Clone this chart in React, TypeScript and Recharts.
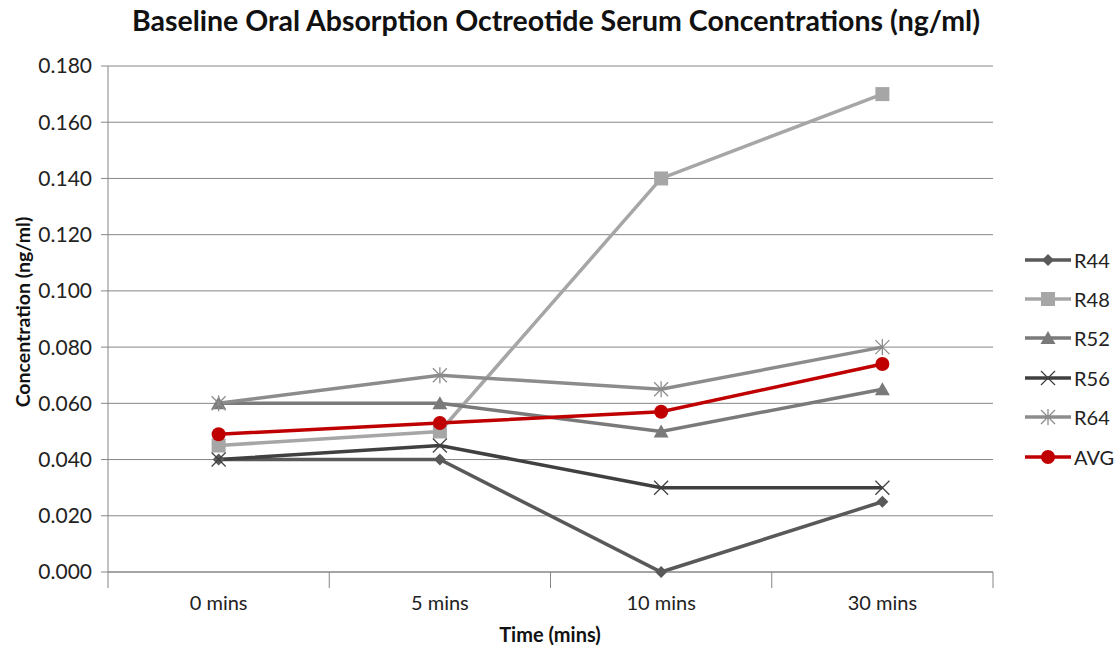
import React from "react";
import { LineChart, Line, XAxis, YAxis, CartesianGrid, Legend } from "recharts";

const times = ["0 mins", "5 mins", "10 mins", "30 mins"];
const r44 = [0.04, 0.04, 0.0, 0.025];
const r48 = [0.045, 0.05, 0.14, 0.17];
const r52 = [0.06, 0.06, 0.05, 0.065];
const r56 = [0.04, 0.045, 0.03, 0.03];
const r64 = [0.06, 0.07, 0.065, 0.08];
const avg = [0.049, 0.053, 0.057, 0.074];
const yTicks = [0, 0.02, 0.04, 0.06, 0.08, 0.1, 0.12, 0.14, 0.16, 0.18];

const data = times.map((t, i) => ({
  time: t,
  R44: r44[i],
  R48: r48[i],
  R52: r52[i],
  R56: r56[i],
  R64: r64[i],
  AVG: avg[i],
}));

const W = 1119;
const H = 646;
const LEGEND_W = 97;
// plot area ends at x=993; the legend's own width is added to the right offset
const MARGIN = { top: 66, right: 126 - LEGEND_W, bottom: 0, left: 0 };
const Y_W = 108;
const X_H = 74;
const PLOT_W = 993 - Y_W;
const HALF = PLOT_W / times.length / 2;
const FONT = "Lato, 'Open Sans', sans-serif";
const AXIS = "#868686";

type Shape = "diamond" | "square" | "triangle" | "x" | "star" | "circle";

const Marker = ({ cx, cy, shape, color }: { cx: number; cy: number; shape: Shape; color: string }) => {
  if (cx == null || cy == null) return null;
  switch (shape) {
    case "diamond":
      return <polygon points={`${cx},${cy - 6} ${cx + 6},${cy} ${cx},${cy + 6} ${cx - 6},${cy}`} fill={color} />;
    case "square":
      return <rect x={cx - 7} y={cy - 7} width={14} height={14} fill={color} />;
    case "triangle":
      return <polygon points={`${cx},${cy - 7} ${cx + 7.5},${cy + 6} ${cx - 7.5},${cy + 6}`} fill={color} />;
    case "x":
      return (
        <g stroke={color} strokeWidth={1.3}>
          <line x1={cx - 7} y1={cy - 7} x2={cx + 7} y2={cy + 7} />
          <line x1={cx - 7} y1={cy + 7} x2={cx + 7} y2={cy - 7} />
        </g>
      );
    case "star":
      return (
        <g stroke={color} strokeWidth={1.3}>
          <line x1={cx - 7} y1={cy - 7} x2={cx + 7} y2={cy + 7} />
          <line x1={cx - 7} y1={cy + 7} x2={cx + 7} y2={cy - 7} />
          <line x1={cx} y1={cy - 8} x2={cx} y2={cy + 8} />
        </g>
      );
    default:
      return <circle cx={cx} cy={cy} r={7} fill={color} />;
  }
};

const series: { key: string; color: string; shape: Shape }[] = [
  { key: "R44", color: "#595959", shape: "diamond" },
  { key: "R48", color: "#A6A6A6", shape: "square" },
  { key: "R52", color: "#7A7A7A", shape: "triangle" },
  { key: "R56", color: "#404040", shape: "x" },
  { key: "R64", color: "#8C8C8C", shape: "star" },
  { key: "AVG", color: "#C00000", shape: "circle" },
];

const XTick = (props: any) => {
  const { x, y, payload, index } = props;
  return (
    <g>
      {index === 0 && <line x1={x - HALF} y1={y} x2={x - HALF} y2={y + 16} stroke={AXIS} />}
      <line x1={x + HALF} y1={y} x2={x + HALF} y2={y + 16} stroke={AXIS} />
      <text x={x} y={y + 38} textAnchor="middle" fontSize={20} fill="#222" fontFamily={FONT}>
        {payload.value}
      </text>
    </g>
  );
};

const LegendContent = () => (
  <div style={{ fontFamily: FONT, fontSize: 20, color: "#222" }}>
    {series.map((s) => (
      <div key={s.key} style={{ display: "flex", alignItems: "center", height: 39.4 }}>
        <svg width={50} height={20}>
          <line x1={2} y1={10} x2={48} y2={10} stroke={s.color} strokeWidth={3.5} />
          <Marker cx={25} cy={10} shape={s.shape} color={s.color} />
        </svg>
        <span style={{ marginLeft: 1 }}>{s.key}</span>
      </div>
    ))}
  </div>
);

export default function App() {
  return (
    <div style={{ position: "absolute", left: 0, top: 0, width: W, height: H, background: "#fff" }}>
      <div
        style={{
          position: "absolute",
          left: 0,
          top: 3,
          width: 1112,
          textAlign: "center",
          fontFamily: FONT,
          fontWeight: 700,
          fontSize: 28.5,
          color: "#111",
        }}
      >
        Baseline Oral Absorption Octreotide Serum Concentrations (ng/ml)
      </div>
      <div
        style={{
          position: "absolute",
          left: 22,
          top: 312,
          transform: "translate(-50%, -50%) rotate(-90deg)",
          fontFamily: FONT,
          fontWeight: 700,
          fontSize: 19.5,
          whiteSpace: "nowrap",
          color: "#111",
        }}
      >
        Concentration (ng/ml)
      </div>
      <div
        style={{
          position: "absolute",
          left: 550,
          top: 634,
          transform: "translate(-50%, -50%)",
          fontFamily: FONT,
          fontWeight: 700,
          fontSize: 20,
          whiteSpace: "nowrap",
          color: "#111",
        }}
      >
        Time (mins)
      </div>
      <LineChart width={W} height={H} data={data} margin={MARGIN}>
        <CartesianGrid vertical={false} stroke={AXIS} strokeWidth={1} />
        <XAxis
          dataKey="time"
          height={X_H}
          padding={{ left: HALF, right: HALF }}
          tickLine={false}
          tickSize={0}
          tickMargin={0}
          axisLine={{ stroke: AXIS }}
          interval={0}
          tick={<XTick />}
        />
        <YAxis
          width={Y_W}
          domain={[0, 0.18]}
          ticks={yTicks}
          interval={0}
          tickFormatter={(v: number) => v.toFixed(3)}
          tickSize={7}
          tickMargin={9}
          axisLine={{ stroke: AXIS }}
          tickLine={{ stroke: AXIS }}
          tick={{ fontSize: 21, fill: "#222", fontFamily: FONT }}
        />
        <Legend
          layout="vertical"
          align="right"
          verticalAlign="top"
          content={<LegendContent />}
          wrapperStyle={{ left: 1023, top: 240, width: LEGEND_W }}
        />
        {series.map((s) => (
          <Line
            key={s.key}
            dataKey={s.key}
            stroke={s.color}
            strokeWidth={3.5}
            isAnimationActive={false}
            dot={(p: any) => <Marker key={`${s.key}-${p.index}`} cx={p.cx} cy={p.cy} shape={s.shape} color={s.color} />}
            activeDot={false}
          />
        ))}
      </LineChart>
    </div>
  );
}
